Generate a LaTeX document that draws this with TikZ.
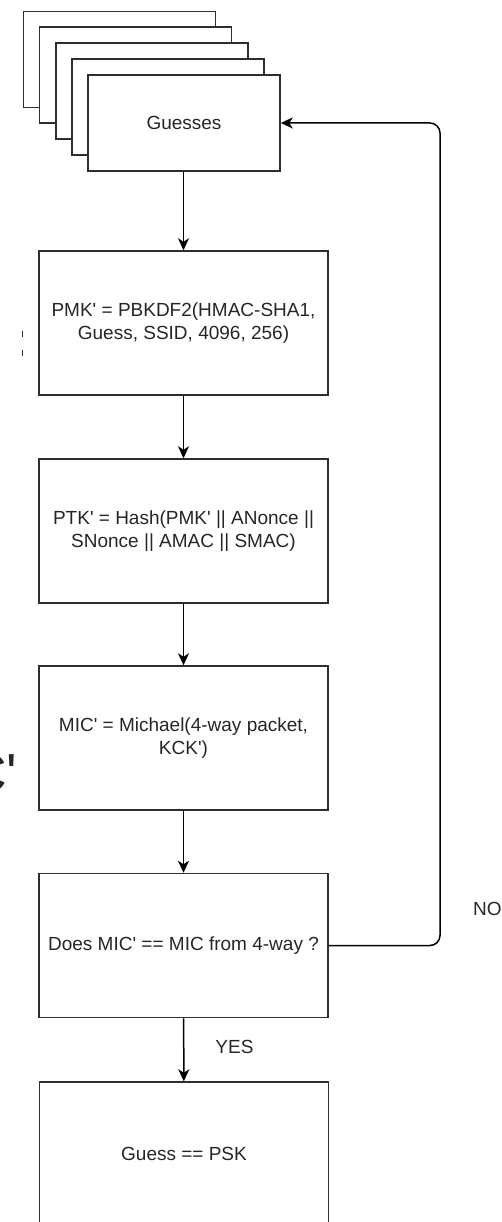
\documentclass[tikz,border=0pt]{standalone}
\usepackage{fontspec}
\setmainfont{Liberation Sans}
\usetikzlibrary{arrows.meta}
\definecolor{ink}{HTML}{2E2E2E}
\definecolor{txt}{HTML}{262626}
\newcommand{\ap}{\textquotesingle}
\tikzset{
  stepbox/.style={draw=ink, line width=1.5pt, fill=white, minimum width=289pt,
    minimum height=144pt, inner sep=0pt, align=center, text=txt,
    font=\fontsize{19}{23}\selectfont},
  sheet/.style={draw=ink, line width=1.5pt, fill=white, minimum width=192pt,
    minimum height=96pt, inner sep=0pt, text=txt, font=\fontsize{19}{23}\selectfont},
  flow/.style={draw=black, line width=1.5pt, -{Stealth[length=12pt,width=11pt,inset=3.5pt]}},
  lbl/.style={text=txt, font=\fontsize{19}{23}\selectfont, inner sep=0pt}
}
\begin{document}
\begin{tikzpicture}[x=1pt,y=-1pt]
\useasboundingbox (0,0) rectangle (502,1222);
\clip (0,0) rectangle (502,1222);
% stack of guess sheets, back to front
\node[sheet] (g1) at (119.5,59.5) {};
\node[sheet] (g2) at (135.5,75) {};
\node[sheet] (g3) at (152,91) {};
\node[sheet] (g4) at (168,107) {};
\node[sheet] (guesses) at (184,123) {Guesses};
% processing steps
\node[stepbox] (pmk) at (183.5,323) {PMK\ap{} = PBKDF2(HMAC-SHA1,\\Guess, SSID, 4096, 256)};
\node[stepbox] (ptk) at (183.5,531) {PTK\ap{} = Hash(PMK\ap{} || ANonce ||\\SNonce || AMAC || SMAC)};
\node[stepbox] (mic) at (183.5,738) {MIC\ap{} = Michael(4-way packet,\\KCK\ap)};
\node[stepbox] (check) at (183.5,945.5) {Does MIC\ap{} == MIC from 4-way ?};
\node[stepbox] (psk) at (184,1154) {Guess == PSK};
% connectors
\draw[flow] (guesses.south -| pmk.north) -- (pmk.north);
\draw[flow] (pmk) -- (ptk);
\draw[flow] (ptk) -- (mic);
\draw[flow] (mic) -- (check);
\draw[flow] (check) -- (psk) node[lbl, pos=0.45, right=31pt] (yes) {YES};
\coordinate (loopx) at (440,0);
\draw[flow, rounded corners=10pt] (check.east) -- (check.east -| loopx) -- (guesses.east -| loopx) -- (guesses.east);
\node[lbl, anchor=west] (no) at (473,909) {NO};
% stray marks along the left edge
\node[lbl, anchor=base west, font=\fontsize{55}{55}\selectfont] (stray) at (-33,792) {C\ap};
\draw[line width=1pt, ink] (22,331) -- (22,337) (22,350) -- (22,356);
\end{tikzpicture}
\end{document}
